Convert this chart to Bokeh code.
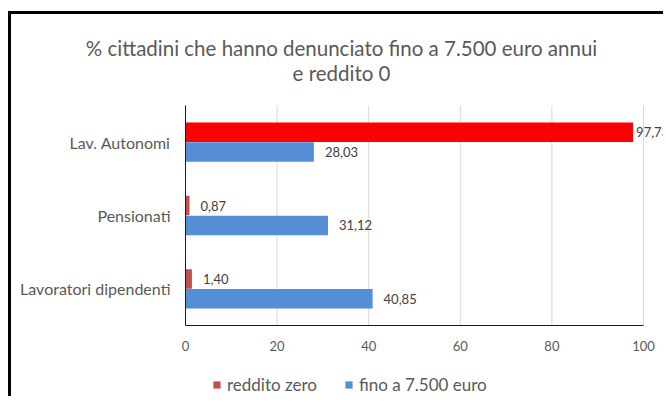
from bokeh.plotting import figure
from bokeh.models import (ColumnDataSource, LabelSet, Label, Legend, LegendItem,
                          FixedTicker, Range1d)
from bokeh.transform import dodge
from bokeh.core.properties import value
from bokeh.embed import file_html
from bokeh.resources import INLINE

# ---- data ----
categories = ["Lavoratori dipendenti", "Pensionati", "Lav. Autonomi"]
reddito_zero = [1.40, 0.87, 97.73]
fino_7500 = [40.85, 31.12, 28.03]
x_ticks = [0, 20, 40, 60, 80, 100]
series_names = ["reddito zero", "fino a 7.500 euro"]
title_lines = ["% cittadini che hanno denunciato fino a 7.500 euro annui", "e reddito 0"]
highlight_category = "Lav. Autonomi"

RED = "#C0504D"
RED_HI = "#FF0000"
BLUE = "#558ED5"
GRAY_TXT = "#595959"
LBL_TXT = "#404040"
FONT = "Lato"

def fmt(v):
    return f"{v:.2f}".replace(".", ",")

n = len(categories)
pos = list(range(n))

src = ColumnDataSource(dict(
    pos=pos,
    zero=reddito_zero,
    fino=fino_7500,
    zero_color=[RED_HI if c == highlight_category else RED for c in categories],
    zero_off=[3 if c == highlight_category else 11 for c in categories],
    zero_lbl=[fmt(v) for v in reddito_zero],
    fino_lbl=[fmt(v) for v in fino_7500],
))

# ---- layout (canvas pixels) ----
W, H = 655, 385           # canvas size
PL, PR = 174, 632         # plot-area left/right (x=0 .. x=100)
PT, PB = 91, 311          # plot-area top/bottom
xmin, xmax = x_ticks[0], x_ticks[-1]
sx = (PR - PL) / (xmax - xmin)
sy = (PB - PT) / n
x_range = Range1d(xmin - PL / sx, xmax + (W - PR) / sx)
y_range = Range1d(-0.5 - (H - PB) / sy, n - 0.5 + PT / sy)

p = figure(x_range=x_range, y_range=y_range,
           width=W, height=H, output_backend="svg", toolbar_location=None,
           min_border=0, min_border_left=0, min_border_right=0,
           min_border_top=0, min_border_bottom=0)
p.styles = {"border-left": "3px solid black", "border-top": "3px solid black",
            "margin-top": "11px", "margin-left": "8px"}
p.outline_line_color = None
p.background_fill_color = "white"
p.border_fill_color = "white"
p.xgrid.grid_line_color = None
p.ygrid.grid_line_color = None

# vertical gridlines limited to the plot area
grid_src = ColumnDataSource(dict(t=x_ticks[1:]))
p.segment(x0="t", x1="t", y0=-0.5, y1=n - 0.5, source=grid_src,
          line_color="#D9D9D9", line_width=1)

off = 0.135
bh = 0.266
r1 = p.hbar(y=dodge("pos", off), left=0, right="zero", height=bh,
            fill_color="zero_color", line_color=None, source=src)
r2 = p.hbar(y=dodge("pos", -off), left=0, right="fino", height=bh,
            fill_color=BLUE, line_color=None, source=src)

p.add_layout(LabelSet(x="zero", y=dodge("pos", off), text="zero_lbl",
                      x_offset="zero_off", text_baseline="middle", source=src,
                      text_font=value(FONT), text_font_size=value("13px"),
                      text_color=LBL_TXT))
p.add_layout(LabelSet(x="fino", y=dodge("pos", -off), text="fino_lbl",
                      x_offset=11, text_baseline="middle", source=src,
                      text_font=value(FONT), text_font_size=value("13px"),
                      text_color=LBL_TXT))

# axes placed at the plot-area edges
xa, ya = p.xaxis[0], p.yaxis[0]
xa.fixed_location = -0.5
xa.bounds = (xmin, xmax)
xa.ticker = FixedTicker(ticks=x_ticks)
ya.fixed_location = 0
ya.bounds = (-0.5, n - 0.5)
ya.ticker = FixedTicker(ticks=pos)
ya.major_label_overrides = {i: c for i, c in zip(pos, categories)}
for ax in (xa, ya):
    ax.axis_line_color = "#1a1a1a"
    ax.axis_line_width = 1
    ax.major_tick_line_color = None
    ax.minor_tick_line_color = None
    ax.major_tick_in = 0
    ax.major_tick_out = 0
    ax.major_label_text_font = FONT
    ax.major_label_text_color = GRAY_TXT
xa.major_label_text_font_size = "13px"
ya.major_label_text_font_size = "16px"
ya.major_label_standoff = 15
xa.major_label_standoff = 15

# title
for txt, base in ((title_lines[0], 33), (title_lines[1], 58)):
    p.add_layout(Label(x=330, y=H - base, x_units="screen", y_units="screen",
                       text=txt, text_align="center", text_baseline="alphabetic",
                       text_font=FONT, text_font_size="20.5px", text_color=GRAY_TXT))

legend = Legend(items=[LegendItem(label=series_names[0], renderers=[r1], index=0),
                       LegendItem(label=series_names[1], renderers=[r2], index=0)],
                orientation="horizontal", location=(201, 4),
                glyph_width=9, glyph_height=9, label_standoff=6, spacing=27,
                padding=0, margin=0, border_line_color=None, background_fill_alpha=0,
                label_height=9,
                label_text_font=FONT, label_text_font_size="17px",
                label_text_color=GRAY_TXT)
p.add_layout(legend)

open("out.html", "w").write(file_html(p, INLINE))
